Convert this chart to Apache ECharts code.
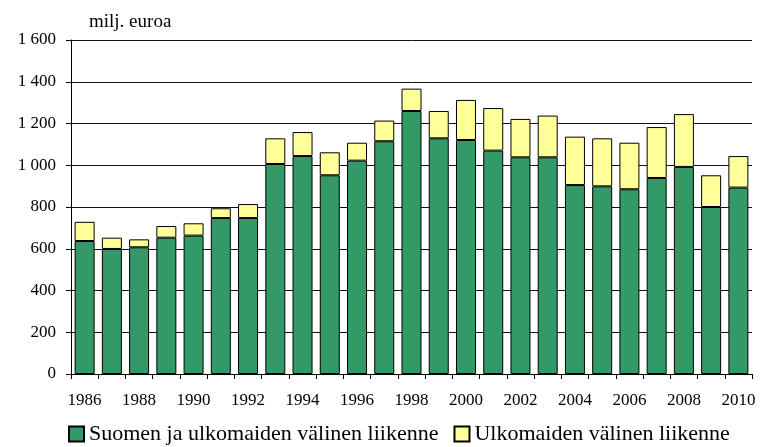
<!DOCTYPE html>
<html>
<head>
<meta charset="utf-8">
<script src="https://cdn.jsdelivr.net/npm/echarts@6/dist/echarts.min.js"></script>
<style>
  html, body { margin: 0; padding: 0; background: #fff; }
  #chart { width: 760px; height: 447px; }
</style>
</head>
<body>
<div id="chart"></div>
<script>
const years = ['1986', '1987', '1988', '1989', '1990', '1991', '1992', '1993', '1994', '1995',
  '1996', '1997', '1998', '1999', '2000', '2001', '2002', '2003', '2004', '2005',
  '2006', '2007', '2008', '2009', '2010']
// Suomen ja ulkomaiden välinen liikenne
const suomiUlkomaat = [637, 599, 607, 653, 663, 747, 747, 1006, 1044, 952,
  1022, 1115, 1260, 1129, 1121, 1070, 1038, 1038, 905, 899,
  885, 939, 992, 800, 893]
// Ulkomaiden välinen liikenne (pinottu päälle)
const ulkomaat = [92, 54, 38, 56, 59, 47, 67, 123, 115, 110,
  86, 99, 107, 131, 192, 204, 184, 200, 232, 230,
  223, 244, 253, 152, 151]

const font = 'Liberation Serif, Times New Roman, serif'

const chart = echarts.init(document.getElementById('chart'), null, { renderer: 'canvas' })
chart.setOption({
  animation: false,
  textStyle: { fontFamily: font, color: '#000' },
  grid: { left: 71, right: 8, top: 40, bottom: 73 },
  title: {
    text: 'milj. euroa',
    left: 84,
    top: 8,
    textStyle: { fontFamily: font, fontSize: 19, fontWeight: 'normal', color: '#000' },
  },
  legend: {
    top: 418,
    left: 63,
    itemWidth: 15,
    itemHeight: 15,
    itemGap: 15,
    textStyle: { fontFamily: font, fontSize: 22, color: '#000' },
    data: [
      { name: 'Suomen ja ulkomaiden välinen liikenne', icon: 'rect' },
      { name: 'Ulkomaiden välinen liikenne', icon: 'rect' },
    ],
  },
  xAxis: {
    type: 'category',
    data: years,
    axisLine: { lineStyle: { color: '#000', width: 1 } },
    axisTick: { show: true, interval: 0, length: 5, lineStyle: { color: '#000' } },
    axisLabel: { interval: 1, fontFamily: font, fontSize: 17, color: '#000', margin: 18 },
  },
  yAxis: {
    type: 'value',
    min: 0,
    max: 1600,
    interval: 200,
    axisLine: { show: true, lineStyle: { color: '#000', width: 1 } },
    axisTick: { show: true, length: 5, lineStyle: { color: '#000' } },
    splitLine: { lineStyle: { color: '#111', width: 1 } },
    axisLabel: {
      fontFamily: font,
      fontSize: 17,
      color: '#000',
      margin: 15,
      formatter: (v) => String(v).replace(/\B(?=(\d{3})+(?!\d))/g, ' '),
    },
  },
  series: [
    {
      name: 'Suomen ja ulkomaiden välinen liikenne',
      type: 'bar',
      stack: 'total',
      barWidth: 20,
      data: suomiUlkomaat,
      itemStyle: { color: '#339966', borderColor: '#000', borderWidth: 1 },
    },
    {
      name: 'Ulkomaiden välinen liikenne',
      type: 'bar',
      stack: 'total',
      barWidth: 20,
      data: ulkomaat,
      itemStyle: { color: '#FFFF99', borderColor: '#000', borderWidth: 1 },
    },
  ],
})
</script>
</body>
</html>
